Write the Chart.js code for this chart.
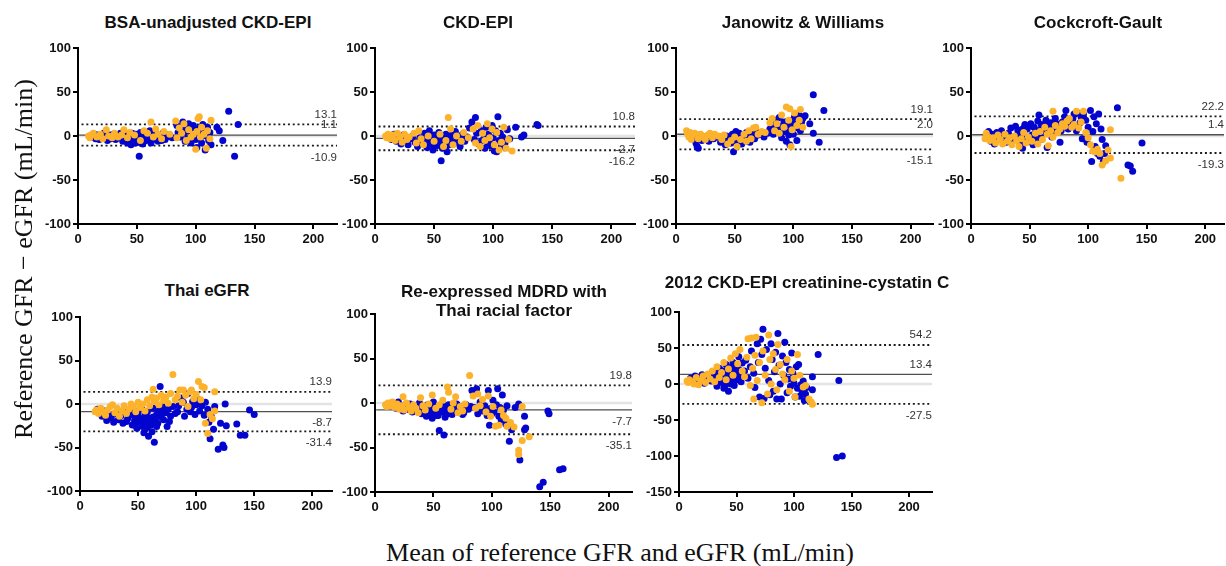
<!DOCTYPE html>
<html>
<head>
<meta charset="utf-8">
<script src="https://cdn.jsdelivr.net/npm/chart.js@4.4.1/dist/chart.umd.min.js"></script>
<style>
  html, body { margin:0; padding:0; background:#fff; width:1226px; height:566px; overflow:hidden; }
  body { position:relative; font-family:"Liberation Sans", Arial, sans-serif; }
  canvas { position:absolute; }
  .title { position:absolute; font-weight:bold; font-size:17px; line-height:19px; color:#111; white-space:nowrap; transform:translateX(-50%); text-align:center; }
  .glabel { position:absolute; font-family:"Liberation Serif", "Times New Roman", serif; font-size:26px; line-height:26px; color:#111; white-space:nowrap; text-align:center; }
</style>
</head>
<body>
<script>
// ---------- DATA ----------
const xTicks = [0, 50, 100, 150, 200];
const yTicksStd = [-100, -50, 0, 50, 100];
const yTicksCys = [-150, -100, -50, 0, 50, 100];

const panelTitles = ["BSA-unadjusted CKD-EPI", "CKD-EPI", "Janowitz & Williams", "Cockcroft-Gault",
  "Thai eGFR", "Re-expressed MDRD with<br>Thai racial factor", "2012 CKD-EPI creatinine-cystatin C"];

// limits: [upper LoA, mean bias, lower LoA]
const bsaLimits = [13.1, 1.1, -10.9];
const ckdLimits = [10.8, -2.7, -16.2];
const jwLimits = [19.1, 2.0, -15.1];
const cgLimits = [22.2, 1.4, -19.3];
const thaiLimits = [13.9, -8.7, -31.4];
const mdrdLimits = [19.8, -7.7, -35.1];
const cysLimits = [54.2, 13.4, -27.5];

const bsaBlue = [[12,-1],[14,2],[15,-3],[17,1],[18,-4],[20,0],[22,3],[23,-2],[25,-5],[27,1],[28,-3],[30,2],[32,-4],[33,0],[35,-2],[36,3],[38,-6],[39,-1],[40,2],[41,-4],[42,-8],[42,-2],[43,1],[44,-3],[44,-6],[45,-10],[46,-5],[46,3],[47,-1],[47,2],[48,-6],[49,2],[49,-8],[50,-3],[50,0],[51,-7],[52,0],[52,-23],[53,4],[53,-2],[54,-4],[55,-9],[55,-5],[56,-1],[57,2],[57,-3],[58,-5],[59,1],[60,-3],[61,6],[62,-8],[63,1],[64,-4],[65,-2],[66,4],[67,1],[68,-6],[69,-2],[70,0],[71,-5],[72,3],[73,2],[74,-4],[75,-1],[76,1],[80,-2],[84,12],[85,4],[87,-1],[88,8],[89,16],[90,3],[91,-6],[92,10],[93,-3],[94,14],[95,5],[96,-8],[97,1],[98,12],[99,6],[100,-4],[101,-13],[102,3],[103,9],[104,-2],[105,-8],[106,13],[107,5],[108,-16],[109,0],[110,10],[111,-5],[112,4],[113,-10],[118,10],[120,6],[123,-5],[128,28],[133,-23],[136,13]];
const bsaOrange = [[9,0],[10,-2],[11,1],[13,3],[16,-1],[19,2],[21,-3],[24,7],[26,0],[29,-2],[31,3],[34,-1],[37,1],[39,7],[42,-2],[44,4],[48,1],[53,-5],[56,6],[59,3],[62,16],[64,-1],[66,8],[68,2],[71,-3],[73,5],[78,2],[83,17],[84,-2],[86,9],[88,3],[90,14],[92,-5],[94,7],[96,-1],[98,2],[100,-15],[101,5],[102,20],[103,22],[104,-1],[105,10],[107,2],[109,-14],[110,6],[112,-3],[113,18]];

const ckdBlue = [[12,-1],[14,-4],[16,2],[18,-6],[20,-2],[22,-9],[24,1],[26,-5],[28,-10],[30,-3],[32,0],[34,-7],[36,-12],[38,-2],[40,-8],[40,-4],[42,3],[43,-5],[43,-9],[44,-13],[45,-1],[45,-6],[46,6],[47,-9],[47,-2],[48,-4],[49,-16],[50,1],[50,-10],[51,-6],[52,-11],[53,-3],[53,-8],[54,4],[55,-8],[55,-1],[56,-28],[57,-14],[58,-2],[58,-9],[59,-6],[60,2],[60,-12],[61,-18],[62,-4],[63,-10],[64,-6],[65,1],[66,-7],[67,-2],[68,5],[70,-3],[71,-8],[72,-12],[74,2],[75,-4],[76,-6],[78,-1],[80,9],[82,16],[84,-4],[85,21],[86,3],[88,-9],[90,6],[90,-6],[92,-3],[93,-14],[94,10],[95,-7],[96,2],[97,-8],[98,-11],[99,12],[100,-2],[101,-17],[102,6],[103,-18],[104,22],[105,-5],[106,3],[107,-12],[108,-1],[110,-8],[112,7],[114,-3],[119,10],[124,-1],[126,1],[137,13],[138,12]];
const ckdOrange = [[9,0],[10,-2],[11,2],[13,-3],[15,1],[17,-5],[19,3],[21,-1],[23,-7],[25,2],[27,-4],[29,-1],[33,3],[35,-8],[37,6],[39,-3],[41,-10],[45,0],[50,-6],[55,2],[58,-12],[60,-5],[62,21],[64,8],[66,-10],[69,0],[73,-6],[75,4],[79,-2],[83,8],[85,-8],[87,12],[89,-12],[91,3],[93,-5],[95,14],[97,-2],[99,8],[101,-10],[103,4],[105,-16],[107,-7],[109,10],[111,-14],[113,-4],[116,-17]];

const jwBlue = [[15,-3],[17,-8],[18,-12],[19,-14],[20,1],[22,-5],[24,-2],[28,-6],[32,-3],[35,-1],[38,-7],[40,-4],[42,-10],[43,0],[44,-4],[45,-6],[46,-2],[46,-8],[47,-8],[48,2],[49,-18],[50,-4],[50,-2],[51,5],[52,-1],[52,-6],[53,-7],[54,3],[54,-9],[55,-3],[56,-9],[56,-3],[57,1],[58,-5],[59,-1],[60,4],[61,-6],[62,-2],[63,-7],[64,-3],[65,2],[66,0],[67,-3],[68,5],[69,2],[70,1],[72,4],[75,-1],[78,3],[80,8],[82,14],[83,2],[84,10],[85,18],[86,6],[87,12],[88,21],[89,3],[90,-2],[91,10],[92,16],[93,5],[93,12],[94,-6],[95,13],[96,1],[97,-10],[98,8],[99,18],[100,2],[100,14],[101,22],[102,11],[103,-5],[104,15],[104,9],[105,24],[106,6],[107,16],[108,20],[110,23],[114,14],[117,47],[117,3],[122,-7],[126,29]];
const jwOrange = [[9,6],[10,2],[11,-1],[12,4],[13,-4],[14,1],[16,3],[19,-3],[21,2],[23,-1],[25,-4],[27,1],[29,3],[31,-2],[33,2],[36,0],[39,-4],[41,1],[44,-9],[47,-5],[50,-1],[52,-12],[55,-4],[58,2],[60,-6],[62,6],[64,-3],[66,9],[68,10],[70,2],[73,5],[76,4],[80,15],[82,20],[84,6],[86,14],[88,3],[90,24],[92,10],[94,33],[96,18],[97,31],[98,-12],[99,7],[101,26],[103,12],[105,18],[106,30],[108,10]];

const cgBlue = [[14,-2],[15,5],[17,-6],[18,2],[20,-9],[22,4],[24,-3],[26,6],[28,-1],[30,-7],[32,3],[34,9],[36,-4],[38,11],[40,1],[40,6],[42,-9],[43,7],[44,-14],[45,3],[45,9],[46,13],[47,-3],[48,8],[48,-2],[50,-6],[51,14],[52,1],[52,11],[53,-10],[54,10],[55,4],[55,-6],[56,-2],[57,17],[58,24],[58,2],[59,7],[60,-4],[60,13],[62,12],[63,3],[63,8],[64,18],[65,-13],[66,12],[67,9],[68,15],[69,-1],[70,5],[72,20],[73,14],[74,10],[76,-7],[77,6],[78,16],[80,22],[81,29],[82,12],[83,8],[85,18],[86,13],[87,20],[88,25],[90,6],[91,26],[93,15],[94,22],[95,-3],[96,25],[98,18],[99,-7],[100,10],[102,29],[103,-29],[104,5],[105,22],[106,-12],[107,14],[108,-20],[109,25],[110,-23],[111,8],[112,-4],[113,-29],[114,-20],[115,-11],[125,32],[134,-33],[136,-34],[138,-40],[146,-8]];
const cgOrange = [[12,-3],[13,3],[15,-1],[16,-5],[19,-2],[21,-8],[23,1],[25,-4],[27,-9],[29,2],[31,-6],[33,-2],[35,-10],[37,0],[39,-5],[41,-12],[43,-3],[45,4],[47,-8],[49,-1],[52,-6],[55,3],[57,-9],[59,5],[61,-4],[63,10],[65,2],[66,-11],[68,6],[70,-1],[70,28],[72,12],[74,4],[76,8],[78,14],[80,11],[82,17],[84,20],[86,10],[88,13],[90,28],[92,9],[94,16],[96,28],[98,4],[100,-2],[102,-10],[104,-17],[106,-18],[108,-15],[110,-20],[112,-33],[115,-28],[117,-16],[119,7],[119,-25],[128,-48]];

const thaiBlue = [[15,-6],[17,-10],[19,-14],[21,-8],[23,-19],[25,-12],[27,-16],[29,-21],[31,-11],[33,-18],[35,-14],[37,-22],[39,-9],[40,-20],[41,-17],[43,-13],[44,-12],[45,-24],[46,-7],[47,-19],[47,-24],[48,-15],[49,-28],[50,-11],[50,-18],[51,-21],[52,-17],[53,-4],[53,-22],[54,-26],[55,-33],[55,-16],[56,-13],[57,-20],[58,-9],[58,-27],[59,-37],[60,-16],[60,-21],[61,-24],[62,-32],[63,-5],[63,-15],[64,-44],[65,-19],[66,-12],[66,-26],[67,-22],[68,-8],[69,20],[69,-12],[70,-15],[71,-2],[72,-18],[73,-7],[74,-10],[75,-26],[76,-6],[77,-20],[78,-14],[80,-3],[82,-11],[84,-9],[85,-2],[87,7],[89,2],[90,-14],[92,-6],[93,12],[95,-9],[96,-4],[97,3],[99,-12],[100,-1],[102,5],[103,-8],[105,-2],[107,-13],[108,2],[110,-6],[111,-21],[112,-40],[113,-14],[115,-29],[116,-3],[119,-52],[121,-22],[123,-47],[124,-50],[125,0],[126,-25],[135,-23],[138,-36],[142,-36],[146,-7],[150,-12]];
const thaiOrange = [[13,-9],[14,-7],[16,-11],[18,-5],[20,-9],[22,-13],[24,-7],[26,-3],[28,-1],[30,-10],[32,-5],[34,-14],[36,-8],[38,-2],[40,-11],[42,-6],[44,0],[46,-3],[48,-9],[50,2],[52,-4],[54,0],[56,-8],[58,5],[60,-2],[62,8],[63,17],[64,3],[66,7],[68,-1],[70,10],[72,4],[74,8],[76,1],[78,12],[80,34],[82,5],[84,9],[86,16],[88,2],[89,16],[91,10],[93,-3],[95,14],[96,16],[98,6],[100,11],[102,26],[104,5],[105,20],[107,19],[108,-22],[110,-34],[112,-12],[114,-17],[116,14],[116,-8]];

const mdrdBlue = [[14,0],[16,-3],[18,-6],[20,1],[22,-4],[24,-9],[26,-2],[28,-7],[30,-1],[32,-10],[34,-4],[36,-8],[38,0],[40,-12],[40,-6],[42,-5],[43,-10],[44,-15],[45,-2],[46,-9],[46,-3],[47,-13],[48,-4],[48,-11],[49,-17],[50,1],[50,-7],[51,-8],[52,-11],[53,-3],[53,-14],[54,-14],[55,-31],[56,-6],[56,-9],[57,-10],[58,-2],[58,-4],[59,-36],[60,-16],[61,-5],[61,-11],[62,-12],[63,-2],[64,-8],[65,-3],[66,-13],[67,-9],[68,-6],[70,-1],[71,-5],[72,-9],[74,-4],[75,-13],[76,-11],[78,-2],[80,-7],[82,-4],[83,14],[85,-5],[87,16],[88,-12],[90,1],[92,-9],[94,-3],[96,-14],[97,14],[98,-25],[99,-6],[100,-12],[101,3],[102,-10],[104,-2],[105,16],[106,-15],[107,-5],[108,-19],[109,9],[110,-8],[112,-24],[113,-3],[115,-43],[117,-30],[120,-5],[123,-1],[124,-64],[128,-15],[128,-30],[129,-28],[141,-94],[144,-89],[148,-9],[149,-12],[158,-75],[161,-74]];
const mdrdOrange = [[9,-2],[10,-4],[11,0],[13,-3],[15,1],[17,-5],[19,-1],[21,-7],[23,-3],[24,7],[25,-8],[27,0],[29,-5],[31,-9],[33,-2],[35,-6],[37,-11],[39,6],[41,-3],[43,-8],[46,-1],[49,9],[52,-6],[55,-2],[58,3],[62,18],[63,12],[65,-7],[67,0],[69,7],[71,-11],[73,-4],[75,-9],[77,-1],[81,31],[84,8],[86,-6],[88,10],[90,-3],[92,4],[95,-10],[97,8],[99,-15],[101,-4],[103,-26],[106,-25],[108,-8],[110,-14],[112,-17],[113,-26],[116,-22],[119,-27],[123,-53],[123,-58],[126,-42],[126,-4],[132,-38]];

const cysBlue = [[10,8],[12,5],[14,11],[16,3],[18,9],[20,13],[22,1],[24,7],[26,12],[28,4],[30,10],[30,4],[32,16],[33,-3],[33,14],[34,6],[35,22],[36,11],[36,19],[37,2],[38,18],[38,8],[39,-6],[40,8],[40,-2],[41,27],[42,14],[42,20],[43,-10],[43,6],[44,3],[44,12],[45,20],[45,0],[46,9],[46,24],[47,30],[47,5],[48,-2],[48,19],[49,15],[50,25],[50,11],[51,6],[52,38],[52,20],[53,12],[54,3],[55,29],[57,18],[58,33],[60,8],[62,24],[63,46],[65,15],[66,-5],[68,56],[69,30],[70,-18],[71,62],[72,41],[73,76],[74,-20],[75,22],[76,48],[78,5],[79,-15],[80,56],[81,34],[82,-10],[83,17],[84,44],[85,-21],[86,70],[87,26],[88,0],[89,-21],[90,39],[91,12],[92,58],[93,30],[94,-12],[95,7],[96,20],[97,-3],[98,43],[99,15],[100,1],[101,-18],[102,24],[103,-6],[104,27],[105,-17],[106,-1],[107,-10],[108,4],[109,-23],[110,-14],[111,-5],[116,10],[116,-8],[121,41],[137,-102],[139,5],[142,-100]];
const cysOrange = [[7,4],[8,2],[9,6],[11,3],[13,0],[15,9],[17,-1],[19,5],[21,11],[23,2],[25,14],[27,7],[29,18],[31,3],[33,24],[35,9],[37,16],[39,30],[41,6],[43,21],[45,36],[47,12],[49,42],[51,28],[53,48],[55,18],[57,10],[59,37],[60,63],[62,-2],[63,64],[64,22],[65,-21],[66,40],[67,65],[68,5],[70,30],[72,-26],[73,46],[75,12],[77,-14],[78,68],[79,34],[80,0],[82,42],[84,20],[85,-8],[86,55],[88,27],[90,14],[92,6],[94,34],[96,-10],[98,18],[100,8],[101,-18],[103,41],[105,12],[108,-4],[110,-2],[113,-21],[115,-25],[116,-28]];

// ---------- STYLE / LAYOUT ----------
const BLUE = '#0404cf';
const ORANGE = '#fdb22b';
const TICK_FONT = {family:'"Liberation Sans", Arial, sans-serif', size:13, weight:'bold'};

const layout = [
  {axisX:78,  right:337,  top:48,  bottom:224, xMax:220, yMin:-100, yMax:100, yTicks:yTicksStd, blue:bsaBlue,  orange:bsaOrange,  lim:bsaLimits,  titleX:208,  titleTop:12.6},
  {axisX:375, right:635,  top:48,  bottom:224, xMax:220, yMin:-100, yMax:100, yTicks:yTicksStd, blue:ckdBlue,  orange:ckdOrange,  lim:ckdLimits,  titleX:478,  titleTop:12.6},
  {axisX:676, right:933,  top:48,  bottom:224, xMax:219, yMin:-100, yMax:100, yTicks:yTicksStd, blue:jwBlue,   orange:jwOrange,   lim:jwLimits,   titleX:803,  titleTop:12.6},
  {axisX:971, right:1224, top:48,  bottom:224, xMax:216, yMin:-100, yMax:100, yTicks:yTicksStd, blue:cgBlue,   orange:cgOrange,   lim:cgLimits,   titleX:1098, titleTop:12.6},
  {axisX:80,  right:332,  top:317, bottom:491, xMax:217, yMin:-100, yMax:100, yTicks:yTicksStd, blue:thaiBlue, orange:thaiOrange, lim:thaiLimits, titleX:207,  titleTop:280.6},
  {axisX:375, right:632,  top:314, bottom:492, xMax:220, yMin:-100, yMax:100, yTicks:yTicksStd, blue:mdrdBlue, orange:mdrdOrange, lim:mdrdLimits, titleX:504,  titleTop:281.6},
  {axisX:679, right:932,  top:312, bottom:492, xMax:220, yMin:-150, yMax:100, yTicks:yTicksCys, blue:cysBlue,  orange:cysOrange,  lim:cysLimits,  titleX:807,  titleTop:272.6}
];

const PAD_L = 54, PAD_T = 12, PAD_R = 8, PAD_B = 34;

const limitLabels = {
  id: 'limitLabels',
  afterDatasetsDraw(chart, args, opts) {
    const ctx = chart.ctx;
    const ys = chart.scales.y;
    const right = chart.chartArea.right;
    ctx.save();
    ctx.font = '11.5px "Liberation Sans", Arial, sans-serif';
    ctx.fillStyle = '#333';
    ctx.textAlign = 'right';
    opts.values.forEach((v, i) => {
      const py = ys.getPixelForValue(v);
      const above = (i === 0) || (i === 1 && v >= 0);
      if (above) { ctx.textBaseline = 'bottom'; ctx.fillText(v.toFixed(1), right, py - 4); }
      else { ctx.textBaseline = 'top'; ctx.fillText(v.toFixed(1), right, py + 6); }
    });
    ctx.restore();
  }
};

function hline(y, x0, x1, color, width, dash, order) {
  return {type:'line', data:[{x:x0, y:y}, {x:x1, y:y}], borderColor:color, borderWidth:width,
          borderDash:dash, pointRadius:0, fill:false, tension:0, order:order};
}

layout.forEach((p, idx) => {
  const w = p.right - p.axisX + PAD_L + PAD_R;
  const h = p.bottom - p.top + PAD_T + PAD_B;
  const cv = document.createElement('canvas');
  cv.width = w; cv.height = h;
  cv.style.width = w + 'px'; cv.style.height = h + 'px';
  cv.style.left = (p.axisX - PAD_L) + 'px';
  cv.style.top = (p.top - PAD_T) + 'px';
  document.body.appendChild(cv);

  const t = document.createElement('div');
  t.className = 'title';
  t.innerHTML = panelTitles[idx];
  t.style.left = p.titleX + 'px';
  t.style.top = p.titleTop + 'px';
  document.body.appendChild(t);

  const toPts = arr => arr.map(a => ({x:a[0], y:a[1]}));
  const pointStyle = {pointRadius:3.5, pointBorderWidth:0, pointHoverRadius:3.5};

  new Chart(cv.getContext('2d'), {
    type:'scatter',
    data:{datasets:[
      Object.assign({data:toPts(p.orange), backgroundColor:ORANGE, borderColor:ORANGE, order:0}, pointStyle),
      Object.assign({data:toPts(p.blue), backgroundColor:BLUE, borderColor:BLUE, order:1}, pointStyle),
      hline(p.lim[0], 3, p.xMax, '#1a1a1a', 1.8, [2, 2.8], 2),
      hline(p.lim[2], 3, p.xMax, '#1a1a1a', 1.8, [2, 2.8], 3),
      hline(p.lim[1], 1, p.xMax, '#505050', 1.3, [], 4),
      hline(0, 1, p.xMax, '#e4e4e4', 2.5, [], 5)
    ]},
    options:{
      responsive:false, animation:false, events:[],
      layout:{padding:{left:0, top:PAD_T, right:PAD_R, bottom:0}},
      plugins:{legend:{display:false}, tooltip:{enabled:false}, title:{display:false}, limitLabels:{values:p.lim}},
      scales:{
        x:{type:'linear', min:0, max:p.xMax,
           afterBuildTicks:s => { s.ticks = xTicks.map(v => ({value:v})); },
           afterFit:s => { s.height = PAD_B; },
           border:{display:true, color:'#000', width:2},
           grid:{display:true, drawOnChartArea:false, drawTicks:true, tickLength:5, color:'#000', lineWidth:2},
           ticks:{font:TICK_FONT, color:'#111', padding:3, maxRotation:0, autoSkip:false}},
        y:{type:'linear', min:p.yMin, max:p.yMax,
           afterBuildTicks:s => { s.ticks = p.yTicks.map(v => ({value:v})); },
           afterFit:s => { s.width = PAD_L; },
           border:{display:true, color:'#000', width:2},
           grid:{display:true, drawOnChartArea:false, drawTicks:true, tickLength:5, color:'#000', lineWidth:2},
           ticks:{font:TICK_FONT, color:'#111', padding:2, autoSkip:false}}
      }
    },
    plugins:[limitLabels]
  });
});

// global axis labels
const yl = document.createElement('div');
yl.className = 'glabel';
yl.textContent = 'Reference GFR \u2212 eGFR (mL/min)';
yl.style.width = '500px'; yl.style.height = '26px';
yl.style.left = (24 - 250) + 'px'; yl.style.top = (259 - 13) + 'px';
yl.style.transform = 'rotate(-90deg)';
document.body.appendChild(yl);

const xl = document.createElement('div');
xl.className = 'glabel';
xl.textContent = 'Mean of reference GFR and eGFR (mL/min)';
xl.style.width = '700px';
xl.style.left = (620 - 350) + 'px'; xl.style.top = '540px';
document.body.appendChild(xl);
</script>
</body>
</html>
